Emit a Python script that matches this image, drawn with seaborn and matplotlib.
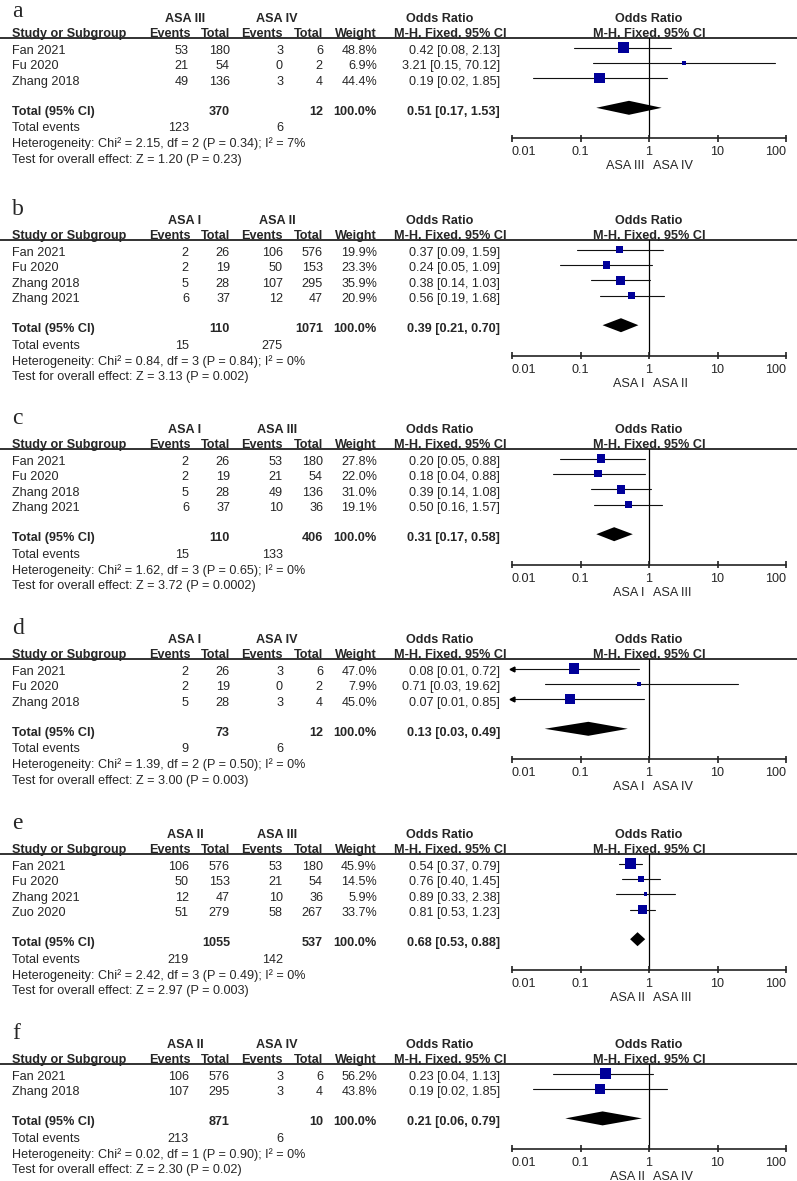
import numpy as np
import pandas as pd
import seaborn as sns
import matplotlib.pyplot as plt

# comparison groups for each panel
panel_letters = ["a", "b", "c", "d", "e", "f"]
group_1 = ["ASA III", "ASA I", "ASA I", "ASA I", "ASA II", "ASA II"]
group_2 = ["ASA IV", "ASA II", "ASA III", "ASA IV", "ASA III", "ASA IV"]

study_names = [
    ["Fan 2021", "Fu 2020", "Zhang 2018"],
    ["Fan 2021", "Fu 2020", "Zhang 2018", "Zhang 2021"],
    ["Fan 2021", "Fu 2020", "Zhang 2018", "Zhang 2021"],
    ["Fan 2021", "Fu 2020", "Zhang 2018"],
    ["Fan 2021", "Fu 2020", "Zhang 2021", "Zuo 2020"],
    ["Fan 2021", "Zhang 2018"],
]
events_1 = [[53, 21, 49], [2, 2, 5, 6], [2, 2, 5, 6], [2, 2, 5], [106, 50, 12, 51], [106, 107]]
total_1 = [[180, 54, 136], [26, 19, 28, 37], [26, 19, 28, 37], [26, 19, 28], [576, 153, 47, 279], [576, 295]]
events_2 = [[3, 0, 3], [106, 50, 107, 12], [53, 21, 49, 10], [3, 0, 3], [53, 21, 10, 58], [3, 3]]
total_2 = [[6, 2, 4], [576, 153, 295, 47], [180, 54, 136, 36], [6, 2, 4], [180, 54, 36, 267], [6, 4]]
weights = [[48.8, 6.9, 44.4], [19.9, 23.3, 35.9, 20.9], [27.8, 22.0, 31.0, 19.1],
           [47.0, 7.9, 45.0], [45.9, 14.5, 5.9, 33.7], [56.2, 43.8]]
odds = [[0.42, 3.21, 0.19], [0.37, 0.24, 0.38, 0.56], [0.20, 0.18, 0.39, 0.50],
        [0.08, 0.71, 0.07], [0.54, 0.76, 0.89, 0.81], [0.23, 0.19]]
ci_low = [[0.08, 0.15, 0.02], [0.09, 0.05, 0.14, 0.19], [0.05, 0.04, 0.14, 0.16],
          [0.01, 0.03, 0.01], [0.37, 0.40, 0.33, 0.53], [0.04, 0.02]]
ci_high = [[2.13, 70.12, 1.85], [1.59, 1.09, 1.03, 1.68], [0.88, 0.88, 1.08, 1.57],
           [0.72, 19.62, 0.85], [0.79, 1.45, 2.38, 1.23], [1.13, 1.85]]

pooled_total_1 = [370, 110, 110, 73, 1055, 871]
pooled_total_2 = [12, 1071, 406, 12, 537, 10]
pooled_or = [0.51, 0.39, 0.31, 0.13, 0.68, 0.21]
pooled_low = [0.17, 0.21, 0.17, 0.03, 0.53, 0.06]
pooled_high = [1.53, 0.70, 0.58, 0.49, 0.88, 0.79]
sum_events_1 = [123, 15, 15, 9, 219, 213]
sum_events_2 = [6, 275, 133, 6, 142, 6]
heterogeneity = [
    "Chi² = 2.15, df = 2 (P = 0.34); I² = 7%",
    "Chi² = 0.84, df = 3 (P = 0.84); I² = 0%",
    "Chi² = 1.62, df = 3 (P = 0.65); I² = 0%",
    "Chi² = 1.39, df = 2 (P = 0.50); I² = 0%",
    "Chi² = 2.42, df = 3 (P = 0.49); I² = 0%",
    "Chi² = 0.02, df = 1 (P = 0.90); I² = 0%",
]
overall_z = [
    "Z = 1.20 (P = 0.23)",
    "Z = 3.13 (P = 0.002)",
    "Z = 3.72 (P = 0.0002)",
    "Z = 3.00 (P = 0.003)",
    "Z = 2.97 (P = 0.003)",
    "Z = 2.30 (P = 0.02)",
]
or_ticks = [0.01, 0.1, 1, 10, 100]
tick_labels = ["0.01", "0.1", "1", "10", "100"]

# layout (pixels)
W, H = 797, 1181
panel_line = [38, 240, 449, 659, 854, 1064]
ROW = 15.4
FS = 9.1
NAVY = "#000099"

sns.set_style("white")
plt.rcParams["font.family"] = ["Liberation Sans", "DejaVu Sans"]

fig = plt.figure(figsize=(W / 100, H / 100), dpi=100)
ax = fig.add_axes([0, 0, 1, 1])
ax.set_xlim(0, W)
ax.set_ylim(H, 0)
ax.axis("off")

ax_f = fig.add_axes([512 / W, 0, 274 / W, 1])


def put(x, y, s, ha="right", bold=False):
    ax.text(x, y + 4, s, ha=ha, va="baseline", fontsize=FS,
            fontweight="bold" if bold else "normal")


rows = []
for p in range(6):
    L = panel_line[p]
    ax.text(12, max(L - 25, 17), panel_letters[p], fontsize=17, family="Liberation Serif",
            va="baseline")
    put(185, L - 20, group_1[p], ha="center", bold=True)
    put(277, L - 20, group_2[p], ha="center", bold=True)
    put(440, L - 20, "Odds Ratio", ha="center", bold=True)
    ax.hlines(L, 0, W, color="#222222", lw=1.3)

    hy = L - 5
    put(12, hy, "Study or Subgroup", ha="left", bold=True)
    put(191, hy, "Events", bold=True)
    put(230, hy, "Total", bold=True)
    put(283, hy, "Events", bold=True)
    put(323, hy, "Total", bold=True)
    put(377, hy, "Weight", bold=True)
    put(507, hy, "M-H, Fixed, 95% CI", bold=True)

    n = len(study_names[p])
    for i in range(n):
        y = L + 12 + ROW * i
        put(12, y, study_names[p][i], ha="left")
        put(189, y, str(events_1[p][i]))
        put(230, y, str(total_1[p][i]))
        put(283, y, str(events_2[p][i]))
        put(323, y, str(total_2[p][i]))
        put(377, y, f"{weights[p][i]:.1f}%")
        put(500, y, f"{odds[p][i]:.2f} [{ci_low[p][i]:.2f}, {ci_high[p][i]:.2f}]")
        rows.append({"or": odds[p][i], "lo": ci_low[p][i], "hi": ci_high[p][i],
                     "weight": weights[p][i], "y": y - 2.5})

    ty = L + 12 + ROW * (n - 1) + 30
    put(12, ty, "Total (95% CI)", ha="left", bold=True)
    put(230, ty, str(pooled_total_1[p]), bold=True)
    put(323, ty, str(pooled_total_2[p]), bold=True)
    put(377, ty, "100.0%", bold=True)
    put(500, ty, f"{pooled_or[p]:.2f} [{pooled_low[p]:.2f}, {pooled_high[p]:.2f}]", bold=True)
    put(12, ty + 16.5, "Total events", ha="left")
    put(189, ty + 16.5, str(sum_events_1[p]))
    put(283, ty + 16.5, str(sum_events_2[p]))
    put(12, ty + 32.5, "Heterogeneity: " + heterogeneity[p], ha="left")
    put(12, ty + 48, "Test for overall effect: " + overall_z[p], ha="left")

    # forest part
    axis_y = ty + 27.5
    ax_f.text(1, L - 16, "Odds Ratio", ha="center", va="baseline", fontsize=FS, fontweight="bold")
    ax_f.text(1, L - 1, "M-H, Fixed, 95% CI", ha="center", va="baseline", fontsize=FS,
              fontweight="bold")
    ax_f.plot([1, 1], [L, axis_y], color="black", lw=0.9, clip_on=False)
    ax_f.plot([or_ticks[0], or_ticks[-1]], [axis_y, axis_y], color="#222222", lw=1.2, clip_on=False)
    ax_f.vlines(or_ticks, axis_y - 3.5, axis_y + 3.5, color="#222222", lw=1.2, clip_on=False)
    for k, (t, lab) in enumerate(zip(or_ticks, tick_labels)):
        ha = "left" if k == 0 else ("right" if k == len(or_ticks) - 1 else "center")
        ax_f.text(t, axis_y + 17, lab, ha=ha, va="baseline", fontsize=FS)
    ax_f.annotate(group_1[p], xy=(1, axis_y + 31), xytext=(-3, 0), textcoords="offset points",
                  ha="right", va="baseline", fontsize=FS)
    ax_f.annotate(group_2[p], xy=(1, axis_y + 31), xytext=(3, 0), textcoords="offset points",
                  ha="left", va="baseline", fontsize=FS)

    # pooled diamond
    dy = ty - 3
    ax_f.fill([pooled_low[p], pooled_or[p], pooled_high[p], pooled_or[p]],
              [dy, dy - 7, dy, dy + 7], color="black", lw=0)

df = pd.DataFrame(rows)

for _, r in df.iterrows():
    lo = max(r["lo"], or_ticks[0])
    hi = min(r["hi"], or_ticks[-1])
    ax_f.plot([lo, hi], [r["y"], r["y"]], color="#111111", lw=0.8, clip_on=False)
    if r["lo"] <= or_ticks[0]:
        ax_f.plot(or_ticks[0], r["y"], marker="<", ms=3.5, color="black", clip_on=False)

sns.scatterplot(data=df, x="or", y="y", size="weight", sizes=(0, 122), size_norm=(0, 100),
                marker="s", color=NAVY, edgecolor=NAVY, linewidth=0, legend=False,
                ax=ax_f, zorder=3, clip_on=False)

ax_f.set_xscale("log")
ax_f.set_xlim(or_ticks[0], or_ticks[-1])
ax_f.set_ylim(H, 0)
ax_f.axis("off")

fig.savefig("out.png", dpi=100)
